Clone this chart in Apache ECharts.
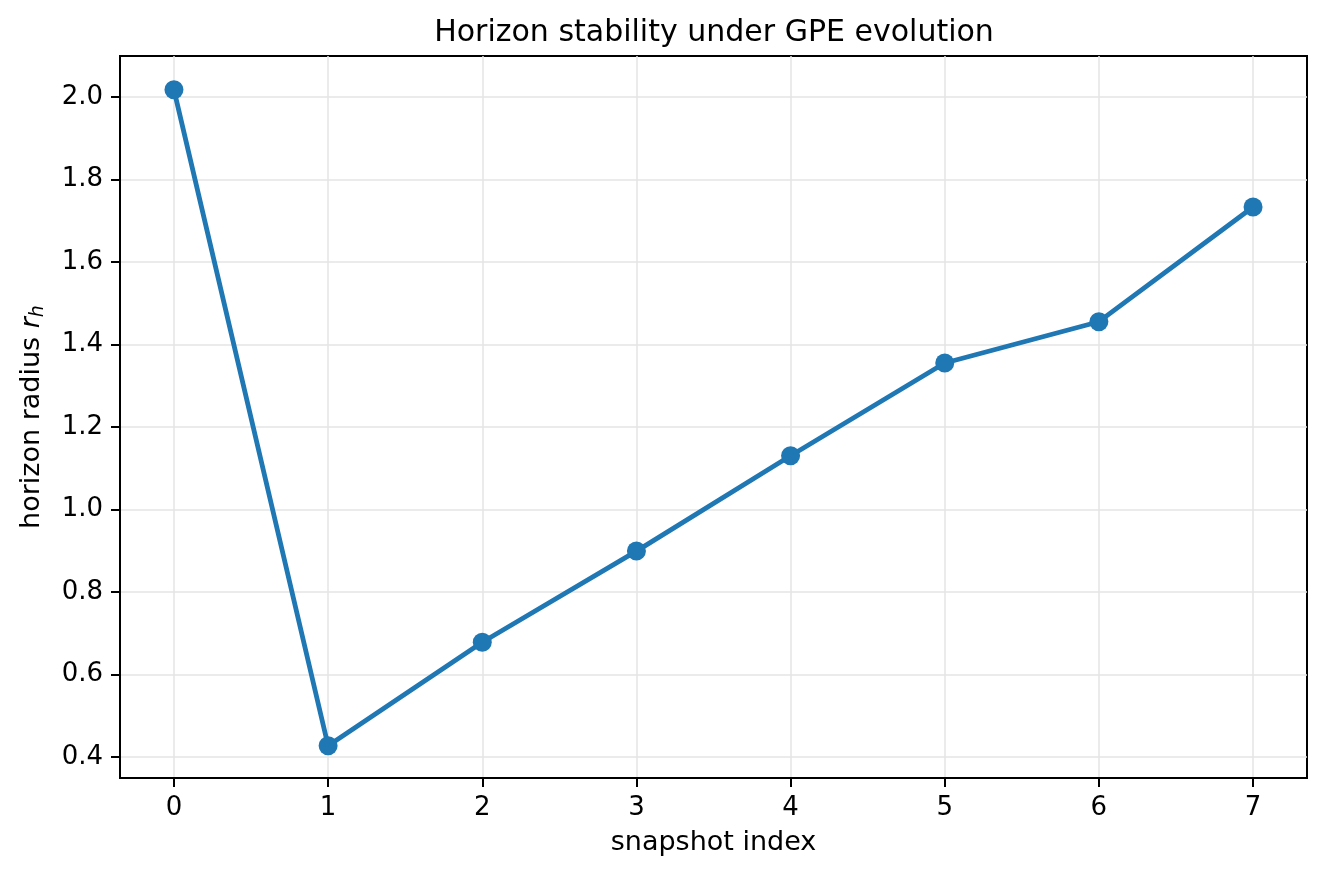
<!DOCTYPE html>
<html>
<head>
<meta charset="utf-8">
<title>Horizon stability under GPE evolution</title>
<script src="https://cdn.jsdelivr.net/npm/echarts@6/dist/echarts.min.js"></script>
<style>
  html, body { margin: 0; padding: 0; background: #fff; }
  #chart { width: 1325px; height: 879px; }
</style>
</head>
<body>
<div id="chart"></div>
<script>
// snapshot index vs horizon radius
const snapshotIndex = [0, 1, 2, 3, 4, 5, 6, 7];
const horizonRadius = [2.017, 0.427, 0.678, 0.899, 1.130, 1.355, 1.455, 1.733];
const xTicks = [0, 1, 2, 3, 4, 5, 6, 7];
const yTicks = [0.4, 0.6, 0.8, 1.0, 1.2, 1.4, 1.6, 1.8, 2.0];

const FONT = 'DejaVu Sans';
const blue = '#1f77b4';

const chart = echarts.init(document.getElementById('chart'), null, { renderer: 'canvas' });

const axisCommon = {
  axisLine: { show: true, onZero: false, lineStyle: { color: '#000', width: 2 } },
  axisTick: { show: true, inside: false, length: 9, lineStyle: { color: '#000', width: 2 } },
  splitLine: { show: true, lineStyle: { color: '#e4e4e4', width: 1.5 } },
  nameTextStyle: { fontFamily: FONT, fontSize: 27, color: '#000' }
};

const option = {
  backgroundColor: '#fff',
  animation: false,
  title: {
    text: 'Horizon stability under GPE evolution',
    left: 709,
    textAlign: 'center',
    top: 13,
    textStyle: { fontFamily: FONT, fontSize: 30, fontWeight: 'normal', color: '#000' }
  },
  grid: {
    left: 120, right: 18, top: 56, bottom: 101,
    show: true, borderColor: '#000', borderWidth: 2, backgroundColor: 'transparent'
  },
  xAxis: Object.assign({}, axisCommon, {
    type: 'value',
    min: -0.35,
    max: 7.35,
    name: 'snapshot index',
    nameLocation: 'middle',
    nameGap: 51,
    axisTick: Object.assign({}, axisCommon.axisTick, { customValues: xTicks }),
    axisLabel: {
      customValues: xTicks,
      margin: 17,
      fontFamily: FONT, fontSize: 26, color: '#000'
    }
  }),
  yAxis: Object.assign({}, axisCommon, {
    type: 'value',
    min: 0.349,
    max: 2.099,
    name: '{n|horizon radius }{r|r}{h|h}',
    nameLocation: 'middle',
    nameRotate: 90,
    nameGap: 72,
    nameTextStyle: {
      fontFamily: FONT, fontSize: 27, color: '#000',
      rich: {
        n: { fontFamily: FONT, fontSize: 27, color: '#000' },
        r: { fontFamily: FONT, fontSize: 27, fontStyle: 'italic', color: '#000' },
        h: { fontFamily: FONT, fontSize: 19, fontStyle: 'italic', color: '#000', padding: [14, 0, 0, 0] }
      }
    },
    axisTick: Object.assign({}, axisCommon.axisTick, { customValues: yTicks }),
    axisLabel: {
      customValues: yTicks,
      margin: 17,
      fontFamily: FONT, fontSize: 26, color: '#000',
      formatter: v => v.toFixed(1)
    }
  }),
  series: [{
    type: 'line',
    data: snapshotIndex.map((x, i) => [x, horizonRadius[i]]),
    symbol: 'circle',
    symbolSize: 19,
    lineStyle: { color: blue, width: 4.8 },
    itemStyle: { color: blue },
    z: 5
  }]
};

chart.setOption(option);
</script>
</body>
</html>
